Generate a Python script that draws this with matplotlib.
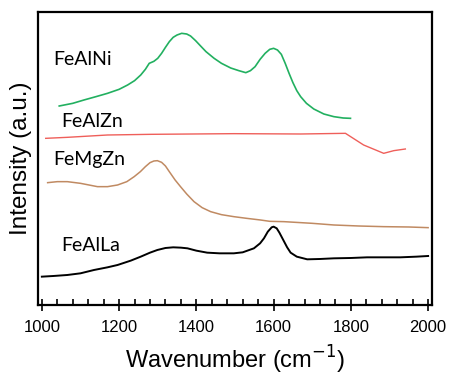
import matplotlib
matplotlib.use("Agg")
import matplotlib.pyplot as plt
from matplotlib.ticker import MultipleLocator

# Data (intensity in arbitrary offset units)
feal_ni_x = [1045, 1080, 1109, 1140, 1170, 1200, 1222, 1240, 1256, 1268, 1278, 1290,
             1300, 1310, 1320, 1330, 1340, 1350, 1362, 1375, 1385, 1398, 1411, 1425,
             1446, 1465, 1489, 1510, 1528, 1540, 1552, 1565, 1578, 1590, 1600, 1610,
             1620, 1630, 1640, 1650, 1660, 1670, 1685, 1704, 1730, 1756, 1780, 1799]
feal_ni_y = [602, 610, 620, 630, 640, 652, 665, 678, 695, 712, 730, 736,
             745, 760, 778, 795, 808, 815, 820, 818, 812, 798, 782, 765,
             745, 730, 716, 708, 702, 708, 720, 742, 760, 772, 775, 770,
             757, 730, 700, 672, 648, 630, 610, 593, 578, 570, 566, 565]

feal_zn_x = [1010, 1066, 1170, 1282, 1497, 1670, 1786, 1833, 1885, 1911, 1941]
feal_zn_y = [505, 508, 515, 517, 519, 518, 520, 485, 460, 468, 473]

femg_zn_x = [1015, 1040, 1066, 1100, 1144, 1170, 1196, 1220, 1239, 1255, 1268, 1280,
             1290, 1299, 1310, 1320, 1330, 1345, 1359, 1375, 1394, 1415, 1437, 1465,
             1497, 1530, 1566, 1590, 1627, 1700, 1756, 1820, 1885, 1950, 2000]
femg_zn_y = [372, 375, 375, 370, 360, 360, 365, 375, 390, 405, 420, 432,
             437, 438, 433, 422, 405, 380, 360, 338, 315, 297, 285, 276,
             270, 265, 260, 256, 255, 250, 245, 242, 240, 239, 237]

feal_la_x = [1000, 1030, 1066, 1100, 1135, 1170, 1196, 1230, 1256, 1280, 1299, 1320,
             1340, 1360, 1377, 1400, 1428, 1460, 1497, 1520, 1549, 1565, 1575, 1585,
             1595, 1600, 1608, 1615, 1625, 1635, 1644, 1660, 1687, 1720, 1756, 1800,
             1842, 1880, 1928, 1970, 2000]
feal_la_y = [90, 92, 95, 100, 110, 118, 125, 138, 150, 162, 170, 176,
             178, 177, 175, 168, 162, 160, 160, 163, 175, 190, 205, 225,
             238, 240, 235, 222, 200, 178, 162, 150, 142, 143, 145, 146,
             148, 148, 148, 150, 152]

labels = ["FeAlNi", "FeAlZn", "FeMgZn", "FeAlLa"]
label_x = [1030, 1050, 1030, 1050]
label_y = [742, 555, 440, 182]

plt.rcParams["font.family"] = ["Liberation Sans", "DejaVu Sans"]

fig = plt.figure(figsize=(4.49, 3.75), dpi=100)
ax = fig.add_axes([0.0846, 0.1867, 0.8775, 0.7813])

ax.plot(feal_ni_x, feal_ni_y, color="#22b060", lw=1.2)
ax.plot(feal_zn_x, feal_zn_y, color="#ef5f5a", lw=1.0)
ax.plot(femg_zn_x, femg_zn_y, color="#c08a62", lw=1.1)
ax.plot(feal_la_x, feal_la_y, color="black", lw=1.4)

for t, x, y in zip(labels, label_x, label_y):
    ax.text(x, y, t, fontsize=14, family="Lato", va="center", ha="left")

ax.set_xlim(990, 2010)
ax.set_ylim(5, 884)
ax.xaxis.set_major_locator(MultipleLocator(200))
ax.xaxis.set_minor_locator(MultipleLocator(40))
ax.tick_params(axis="x", which="major", direction="inout", length=8, width=1.2,
               labelsize=12, pad=7)
ax.tick_params(axis="x", which="minor", direction="in", length=4, width=1.2)
ax.set_yticks([])
for s in ax.spines.values():
    s.set_linewidth(1.6)

ax.set_xlabel("Wavenumber (cm$^{-1}$)", fontsize=17, labelpad=6)
ax.set_ylabel("Intensity (a.u.)", fontsize=17.5, labelpad=4)

fig.savefig("out.png", dpi=100)
